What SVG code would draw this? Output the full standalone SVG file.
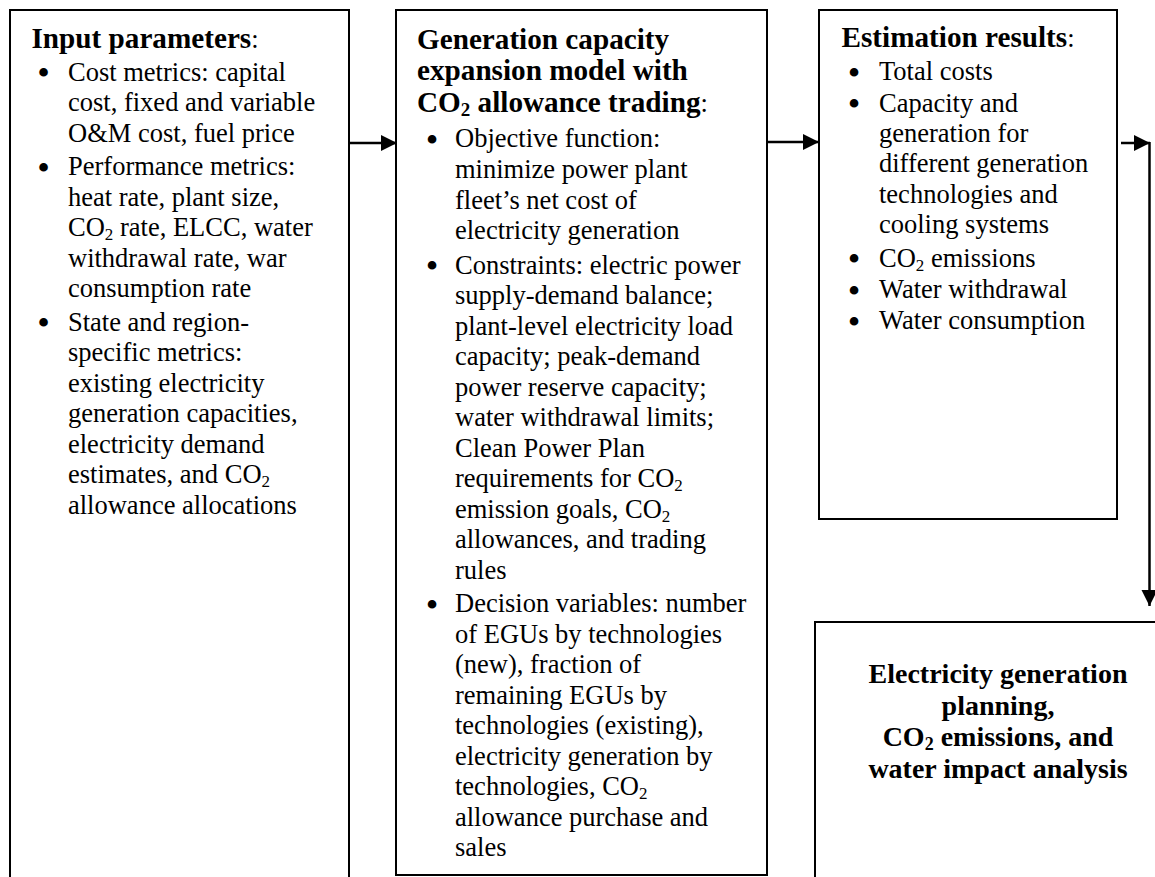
<svg xmlns="http://www.w3.org/2000/svg" width="1155" height="877" viewBox="0 0 1155 877">
<style>
.t{font-family:"Liberation Serif","Times New Roman",serif;font-size:26.5px;fill:#000}
.b{font-weight:bold;font-size:29.2px}
.b4{font-weight:bold;font-size:28px}
.bu{font-family:"Liberation Serif","Times New Roman",serif;font-size:36px;fill:#000;text-anchor:middle}
.box{fill:#fff;stroke:#000;stroke-width:2}
.conn{stroke:#000;stroke-width:2.5;fill:none}
.c{text-anchor:middle}
</style>
<defs>
<marker id="ah" markerUnits="userSpaceOnUse" markerWidth="18" markerHeight="18" refX="16" refY="8" orient="auto">
<path d="M0,0 L16,8 L0,16 Z" fill="#000"/>
</marker>
</defs>
<rect width="1155" height="877" fill="#fff"/>

<g id="input">
<rect class="box" x="10" y="10" width="339" height="900"/>
<text class="t" x="31.5" y="48"><tspan class="b">Input parameters</tspan>:</text>
<text class="bu" x="43.5" y="85.2">•</text>
<text class="t" x="68" y="80.7">Cost metrics: capital</text>
<text class="t" x="68" y="111.2">cost, fixed and variable</text>
<text class="t" x="68" y="141.7">O&amp;M cost, fuel price</text>
<text class="bu" x="43.5" y="179.7">•</text>
<text class="t" x="68" y="175.2">Performance metrics:</text>
<text class="t" x="68" y="205.7">heat rate, plant size,</text>
<text class="t" x="68" y="236.2">CO<tspan dy="4" font-size="17">2</tspan><tspan dy="-4"> rate, ELCC, water</tspan></text>
<text class="t" x="68" y="266.7">withdrawal rate, war</text>
<text class="t" x="68" y="297.2">consumption rate</text>
<text class="bu" x="43.5" y="335.2">•</text>
<text class="t" x="68" y="330.7">State and region-</text>
<text class="t" x="68" y="361.2">specific metrics:</text>
<text class="t" x="68" y="391.7">existing electricity</text>
<text class="t" x="68" y="422.2">generation capacities,</text>
<text class="t" x="68" y="452.7">electricity demand</text>
<text class="t" x="68" y="483.2">estimates, and CO<tspan dy="4" font-size="17">2</tspan></text>
<text class="t" x="68" y="513.7">allowance allocations</text>
</g>

<g id="model">
<rect class="box" x="396" y="10" width="371" height="865"/>
<text class="t b" x="417" y="49">Generation capacity</text>
<text class="t b" x="417" y="80">expansion model with</text>
<text class="t" x="417" y="111.5"><tspan class="b">CO<tspan dy="4" font-size="19">2</tspan><tspan dy="-4"> allowance trading</tspan></tspan>:</text>
<text class="bu" x="432" y="151.8">•</text>
<text class="t" x="455" y="147.3">Objective function:</text>
<text class="t" x="455" y="178">minimize power plant</text>
<text class="t" x="455" y="208.5">fleet’s net cost of</text>
<text class="t" x="455" y="239">electricity generation</text>
<text class="bu" x="432" y="278">•</text>
<text class="t" x="455" y="273.5">Constraints: electric power</text>
<text class="t" x="455" y="304">supply-demand balance;</text>
<text class="t" x="455" y="334.5">plant-level electricity load</text>
<text class="t" x="455" y="365">capacity; peak-demand</text>
<text class="t" x="455" y="395.5">power reserve capacity;</text>
<text class="t" x="455" y="426">water withdrawal limits;</text>
<text class="t" x="455" y="456.5">Clean Power Plan</text>
<text class="t" x="455" y="487">requirements for CO<tspan dy="4" font-size="17">2</tspan></text>
<text class="t" x="455" y="517.5">emission goals, CO<tspan dy="4" font-size="17">2</tspan></text>
<text class="t" x="455" y="548">allowances, and trading</text>
<text class="t" x="455" y="578.5">rules</text>
<text class="bu" x="432" y="616.5">•</text>
<text class="t" x="455" y="612">Decision variables: number</text>
<text class="t" x="455" y="642.5">of EGUs by technologies</text>
<text class="t" x="455" y="673">(new), fraction of</text>
<text class="t" x="455" y="703.5">remaining EGUs by</text>
<text class="t" x="455" y="734">technologies (existing),</text>
<text class="t" x="455" y="764.5">electricity generation by</text>
<text class="t" x="455" y="795">technologies, CO<tspan dy="4" font-size="17">2</tspan></text>
<text class="t" x="455" y="825.5">allowance purchase and</text>
<text class="t" x="455" y="856">sales</text>
</g>

<g id="results">
<rect class="box" x="819" y="10" width="298" height="509"/>
<text class="t" x="841.5" y="47"><tspan class="b">Estimation results</tspan>:</text>
<text class="bu" x="854" y="84.5">•</text>
<text class="t" x="879" y="80">Total costs</text>
<text class="bu" x="854" y="116.2">•</text>
<text class="t" x="879" y="111.7">Capacity and</text>
<text class="t" x="879" y="141.7">generation for</text>
<text class="t" x="879" y="172.3">different generation</text>
<text class="t" x="879" y="203.3">technologies and</text>
<text class="t" x="879" y="233.3">cooling systems</text>
<text class="bu" x="854" y="271.2">•</text>
<text class="t" x="879" y="266.7">CO<tspan dy="4" font-size="17">2</tspan><tspan dy="-4"> emissions</tspan></text>
<text class="bu" x="854" y="302.8">•</text>
<text class="t" x="879" y="298.3">Water withdrawal</text>
<text class="bu" x="854" y="333.8">•</text>
<text class="t" x="879" y="329.3">Water consumption</text>
</g>

<g id="analysis">
<rect class="box" x="815" y="622" width="400" height="300"/>
<text class="t b4 c" x="998" y="683">Electricity generation</text>
<text class="t b4 c" x="998" y="714.5">planning,</text>
<text class="t b4 c" x="998" y="746">CO<tspan dy="4" font-size="18">2</tspan><tspan dy="-4"> emissions, and</tspan></text>
<text class="t b4 c" x="998" y="777.5">water impact analysis</text>
</g>

<g id="connectors">
<path class="conn" d="M349,143 H397" marker-end="url(#ah)"/>
<path class="conn" d="M767,142 H819" marker-end="url(#ah)"/>
<path class="conn" d="M1121,143 H1150" marker-end="url(#ah)"/>
<path class="conn" d="M1149.5,142 V606" marker-end="url(#ah)"/>
</g>
</svg>
